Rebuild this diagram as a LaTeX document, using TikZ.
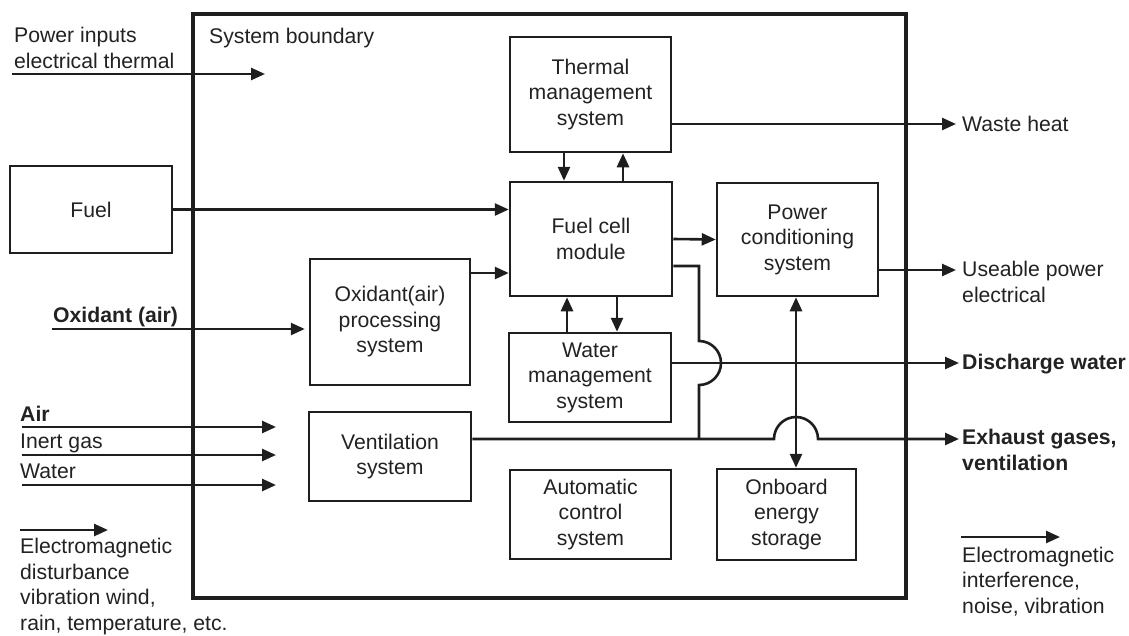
\documentclass[tikz,border=0pt]{standalone}
\usepackage{fontspec}
\setmainfont{Liberation Sans}
\usetikzlibrary{arrows.meta,calc}
\definecolor{ink}{HTML}{1E1E1E}
\definecolor{txt}{HTML}{222222}
\begin{document}
\begin{tikzpicture}[x=1pt,y=-1pt,
  every node/.style={font=\fontsize{21.2}{25.5}\selectfont, text=txt},
  box/.style={draw=ink, line width=2.5pt, align=center, inner sep=0pt},
  conn/.style={draw=ink, line width=2.6pt},
  arr/.style={conn, -{Triangle[length=14pt,width=12pt]}},
  darr/.style={conn, {Triangle[length=14pt,width=12pt]}-{Triangle[length=14pt,width=12pt]}},
  lbl/.style={anchor=base west, align=left, inner sep=0pt},
  blbl/.style={lbl, font=\fontsize{21.2}{25.5}\selectfont\bfseries}
]
\useasboundingbox (0,0) rectangle (1129,635);
\fill[white] (0,0) rectangle (1129,635);

% system boundary
\node[draw=ink, line width=3.2pt, minimum width=713pt, minimum height=584pt, inner sep=0pt] (boundary) at (549.5,306) {};
\node[lbl] (sysb) at (209,43) {System boundary};

% boxes
\node[box, minimum width=161pt, minimum height=115pt] (thermal) at (590.5,94.5) {Thermal\\management\\system};
\node[box, minimum width=162pt, minimum height=114pt] (fuelcell) at (591,239) {Fuel cell\\module};
\node[box, minimum width=161pt, minimum height=113pt] (power) at (797.5,239.5) {Power\\conditioning\\system};
\node[box, minimum width=162pt, minimum height=89pt] (water) at (590,377.5) {Water\\management\\system};
\node[box, minimum width=160pt, minimum height=126pt] (oxid) at (390,322) {Oxidant(air)\\processing\\system};
\node[box, minimum width=162pt, minimum height=87pt] (fuel) at (91,209.5) {Fuel};
\node[box, minimum width=162pt, minimum height=89pt] (vent) at (390,456.5) {Ventilation\\system};
\node[box, minimum width=161pt, minimum height=89pt] (auto) at (590.5,514.5) {Automatic\\control\\system};
\node[box, minimum width=139pt, minimum height=91pt] (onboard) at (786.5,514.5) {Onboard\\energy\\storage};

% labels (base anchor = last line's baseline)
\node[lbl] (pin) at (14,68) {Power inputs\\electrical thermal};
\node[blbl] (oxl) at (53,322) {Oxidant (air)};
\node[blbl] (airl) at (20,421) {Air};
\node[lbl] (inl) at (20,448) {Inert gas};
\node[lbl] (watl) at (20,478) {Water};
\node[lbl] (eml) at (20,630) {Electromagnetic\\disturbance\\vibration wind,\\rain, temperature, etc.};
\node[lbl] (wh) at (962,131) {Waste heat};
\node[lbl] (up) at (962,302) {Useable power\\electrical};
\node[blbl] (dw) at (962,369) {Discharge water};
\node[blbl] (ex) at (962,470) {Exhaust gases,\\ventilation};
\node[lbl] (emr) at (962,613) {Electromagnetic\\interference,\\noise, vibration};

% free ends
\coordinate (pinA) at (12,74);   \coordinate (pinB) at (265,74);
\coordinate (oxA) at (52,329);
\coordinate (airA) at (22,427);  \coordinate (airB) at (276,427);
\coordinate (inA) at (22,455);   \coordinate (inB) at (276,455);
\coordinate (watA) at (22,485);  \coordinate (watB) at (276,485);
\coordinate (emlA) at (20,530);  \coordinate (emlB) at (108,530);
\coordinate (emrA) at (961,537); \coordinate (emrB) at (1060,537);

% connectors
\draw[arr] (pinA) -- (pinB);
\draw[arr] (fuel.east) -- (fuel.east -| fuelcell.west);
\draw[arr] (oxid.east |- 0,273) -- (fuelcell.west |- 0,273);
\draw[arr, shorten >=4pt] (oxA) -- (oxid.west |- oxA);
\draw[arr] (thermal.south -| 564,0) -- (fuelcell.north -| 564,0);
\draw[arr] (fuelcell.north -| 623,0) -- (thermal.south -| 623,0);
\draw[arr] (fuelcell.east) -- (power.west);
\draw[arr] (water.north -| 567,0) -- (fuelcell.south -| 567,0);
\draw[arr] (fuelcell.south -| 617,0) -- (water.north -| 617,0);
\draw[arr, shorten >=6pt] (thermal.east |- 0,124) -- (wh.west |- 0,124);
\draw[arr, shorten >=6pt] (power.east |- 0,270) -- (up.west |- 0,270);
\draw[arr, shorten >=3pt] (water.east |- 0,363) -- (dw.west |- 0,363);
\draw[arr, shorten >=3pt] (vent.east |- 0,439) -- (774,439) arc[start angle=180,end angle=360,radius=22] -- (ex.west |- 0,439);
\draw[conn] (fuelcell.east |- 0,266) -- (699,266) -- (699,341) arc[start angle=-90,end angle=90,radius=22] -- (699,439);
\draw[darr] (power.south -| 796,0) -- (onboard.north -| 796,0);
\draw[arr] (airA) -- (airB);
\draw[arr] (inA) -- (inB);
\draw[arr] (watA) -- (watB);
\draw[arr] (emlA) -- (emlB);
\draw[arr] (emrA) -- (emrB);
\end{tikzpicture}
\end{document}
